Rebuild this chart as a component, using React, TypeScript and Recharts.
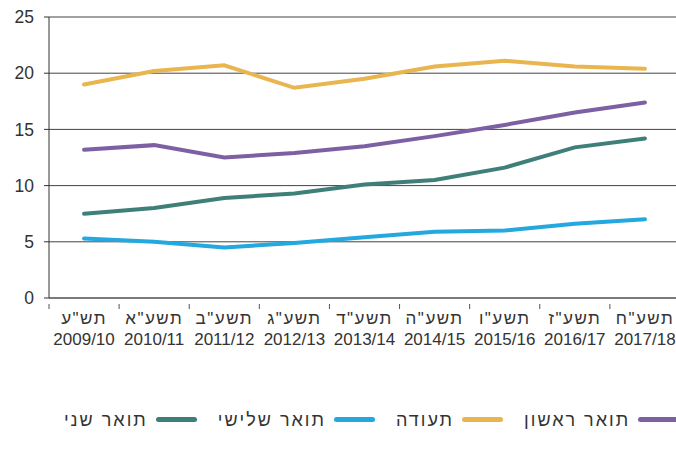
import React from "react";
import { LineChart, Line, XAxis, YAxis, CartesianGrid } from "recharts";

const HEB_YEARS = ['תש"ע', 'תשע"א', 'תשע"ב', 'תשע"ג', 'תשע"ד', 'תשע"ה', 'תשע"ו', 'תשע"ז', 'תשע"ח'];
const YEARS = ["2009/10", "2010/11", "2011/12", "2012/13", "2013/14", "2014/15", "2015/16", "2016/17", "2017/18"];

const FIRST_DEGREE = [13.2, 13.6, 12.5, 12.9, 13.5, 14.4, 15.4, 16.5, 17.4];
const CERTIFICATE = [19.0, 20.2, 20.7, 18.7, 19.5, 20.6, 21.1, 20.6, 20.4];
const THIRD_DEGREE = [5.3, 5.0, 4.5, 4.9, 5.4, 5.9, 6.0, 6.6, 7.0];
const SECOND_DEGREE = [7.5, 8.0, 8.9, 9.3, 10.1, 10.5, 11.6, 13.4, 14.2];

const Y_TICKS = [0, 5, 10, 15, 20, 25];

// legend order as it reads right-to-left
const SERIES = [
  { key: "first", name: "תואר ראשון", color: "#7d5fa4", values: FIRST_DEGREE },
  { key: "cert", name: "תעודה", color: "#e8b54f", values: CERTIFICATE },
  { key: "third", name: "תואר שלישי", color: "#23a8e0", values: THIRD_DEGREE },
  { key: "second", name: "תואר שני", color: "#3e7f7a", values: SECOND_DEGREE },
];

const data = YEARS.map((year, i) => {
  const row: Record<string, string | number> = { year, heb: HEB_YEARS[i] };
  SERIES.forEach((s) => {
    row[s.key] = s.values[i];
  });
  return row;
});

const FONT = "'Liberation Sans', Arial, sans-serif";

// label plus a tick mark on the left edge of each band
function YearTick(props: any) {
  const { x, y, index, payload } = props;
  const half = payload?.offset ?? 0;
  const axisY = props.axisY;
  return (
    <g>
      <line x1={x - half} x2={x - half} y1={axisY} y2={axisY + 5} stroke="#555" />
      <text
        x={x}
        y={y + 18}
        textAnchor="middle"
        fill="#333"
        fontSize={17}
        fontFamily={FONT}
        letterSpacing={1.5}
      >
        {HEB_YEARS[index]}
      </text>
      <text
        x={x}
        y={y + 39}
        textAnchor="middle"
        fill="#333"
        fontSize={17}
        fontFamily={FONT}
      >
        {YEARS[index]}
      </text>
    </g>
  );
}

function LegendRow() {
  return (
    <div
      style={{
        position: "absolute",
        left: 0,
        top: 410,
        width: 722,
        display: "flex",
        direction: "rtl",
        justifyContent: "center",
        alignItems: "center",
        fontFamily: FONT,
        fontSize: 18,
        letterSpacing: 2,
        color: "#333",
        whiteSpace: "nowrap",
      }}
    >
      {SERIES.map((s) => (
        <div
          key={s.key}
          style={{ display: "flex", alignItems: "center", marginLeft: 21, flexShrink: 0 }}
        >
          <span
            style={{
              display: "inline-block",
              width: 41,
              height: 5,
              borderRadius: 3,
              background: s.color,
              marginLeft: 8,
              marginTop: -3,
            }}
          />
          <span>{s.name}</span>
        </div>
      ))}
    </div>
  );
}

export default function App() {
  return (
    <div
      style={{
        position: "fixed",
        left: 0,
        top: 0,
        width: 676,
        height: 457,
        overflow: "hidden",
        background: "#fff",
      }}
    >
      <LineChart
        width={680}
        height={457}
        data={data}
        margin={{ top: 17, right: 0, bottom: 99, left: 0 }}
      >
        <CartesianGrid vertical={false} stroke="#444" strokeWidth={1} />
        <XAxis
          dataKey="year"
          scale="band"
          height={60}
          axisLine={{ stroke: "#555" }}
          tickLine={false}
          tick={(p: any) => <YearTick {...p} axisY={p.y - 2} />}
          interval={0}
        />
        <YAxis
          width={49}
          domain={[0, 25]}
          ticks={Y_TICKS}
          axisLine={{ stroke: "#333" }}
          tickLine={{ stroke: "#333" }}
          tickSize={5}
          tickMargin={10}
          tick={{ fill: "#333", fontSize: 17.5, fontFamily: FONT }}
          interval={0}
        />
        {SERIES.map((s) => (
          <Line
            key={s.key}
            dataKey={s.key}
            name={s.name}
            stroke={s.color}
            strokeWidth={4}
            strokeLinecap="round"
            dot={false}
            activeDot={false}
            isAnimationActive={false}
          />
        ))}
      </LineChart>
      <LegendRow />
    </div>
  );
}
